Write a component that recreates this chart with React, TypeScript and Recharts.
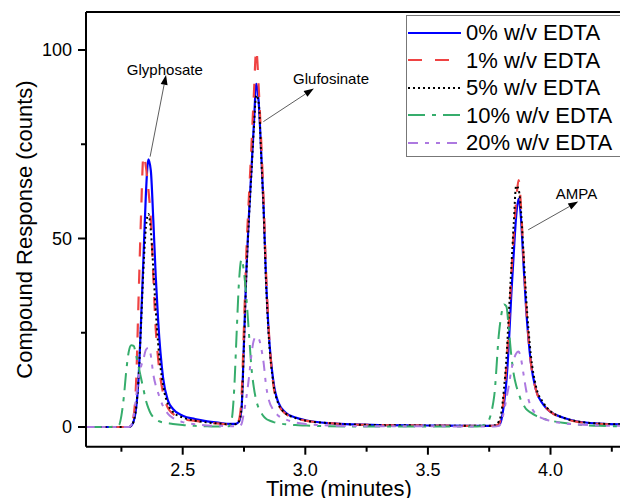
import { LineChart, Line, XAxis, YAxis, Legend, ReferenceLine, ReferenceDot, Label } from 'recharts'

// retention time (minutes)
const time = [
  2.1, 2.2, 2.24, 2.25, 2.26, 2.27, 2.28, 2.29, 2.3, 2.31,
  2.32, 2.33, 2.34, 2.35, 2.36, 2.37, 2.38, 2.39, 2.4, 2.42,
  2.44, 2.46, 2.5, 2.55, 2.6, 2.65, 2.69, 2.7, 2.71, 2.72,
  2.73, 2.74, 2.75, 2.76, 2.77, 2.78, 2.79, 2.8, 2.81, 2.82,
  2.83, 2.84, 2.85, 2.87, 2.89, 2.92, 2.96, 3.0, 3.1, 3.3,
  3.5, 3.7, 3.74, 3.77, 3.79, 3.8, 3.81, 3.82, 3.83, 3.84,
  3.85, 3.86, 3.87, 3.88, 3.89, 3.9, 3.92, 3.94, 3.97, 4.0,
  4.05, 4.1, 4.2, 4.29,
]

const edta0 = [
  0, 0, 0, 0, 0, 0, 0, 0.3, 1.5, 5,
  13, 28, 45, 62, 71, 68, 55, 40, 28, 13,
  7, 4.8, 3, 2.1, 1.5, 1.1, 0.8, 0.8, 0.8, 0.9,
  1.5, 5, 23, 42, 56, 68, 80, 91, 86, 73,
  58, 39, 26, 12, 6.5, 3.8, 2.5, 1.8, 1.0, 0.5,
  0.4, 0.3, 0.3, 0.3, 0.5, 2, 6, 12, 22, 35,
  46, 56, 60.5, 55, 43, 32, 17, 10, 6, 4,
  2.5, 1.6, 0.9, 0.7,
]

const edta1 = [
  0, 0, 0, 0, 0, 0, 0, 1, 3, 12,
  34, 56, 72, 69, 63, 55, 40, 26, 18, 9,
  5, 3.5, 2.2, 1.6, 1.2, 0.9, 0.7, 0.7, 0.7, 0.8,
  2, 8, 27, 47, 61, 74, 88, 100, 90, 76,
  60, 41, 27, 11, 6, 3.5, 2.3, 1.7, 1.0, 0.5,
  0.4, 0.3, 0.3, 0.3, 0.8, 3, 8, 16, 27, 40,
  51, 60, 65.5, 58, 45, 33, 17, 10, 6, 4,
  2.4, 1.5, 0.8, 0.6,
]

const edta5 = [
  0, 0, 0, 0, 0, 0, 0, 0.3, 1.5, 5,
  13, 27, 42, 53, 56.5, 52, 42, 31, 22, 11,
  6, 4, 2.5, 1.7, 1.2, 0.9, 0.7, 0.7, 0.7, 0.8,
  1.5, 5, 22, 41, 55, 67, 79, 88, 86, 72,
  57, 38, 25, 11.5, 6.2, 3.6, 2.4, 1.7, 1.0, 0.5,
  0.4, 0.3, 0.3, 0.4, 1.5, 4, 10, 18, 30, 42,
  54, 64, 63, 57, 46, 35, 19, 11, 6.5, 4.2,
  2.5, 1.6, 0.9, 0.7,
]

const edta10 = [
  0, 0, 0.5, 3, 8, 15, 20, 21.7, 21.5, 19,
  16, 13, 10, 7, 5, 3.5, 2.6, 2, 1.6, 1.2,
  1.0, 0.8, 0.5, 0.3, 0.2, 0.1, 0.2, 2, 10, 25,
  39, 44.5, 41, 34, 25, 16, 10.5, 7, 5, 3.8,
  2.8, 2.2, 1.8, 1.3, 1.0, 0.7, 0.5, 0.4, 0.2, 0.1,
  0.1, 0.1, 1, 8, 25, 30, 32.5, 32, 26, 19,
  14, 11, 9, 7, 5.8, 4.8, 3.8, 3, 2.2, 1.7,
  1.1, 0.7, 0.3, 0.2,
]

const edta20 = [
  0, 0, 0, 0, 0, 0, 0, 0.5, 3, 8,
  13, 16, 18, 20.5, 21, 19, 14, 11, 9, 5.5,
  3.5, 2.4, 1.3, 0.7, 0.4, 0.3, 0.2, 0.2, 0.2, 0.2,
  0.2, 0.8, 4, 8, 13, 19, 23, 24, 23.5, 21,
  17, 11, 7.5, 4.5, 3, 2, 1.2, 0.8, 0.4, 0.2,
  0.2, 0.1, 0.1, 0.1, 0.3, 1.5, 4, 7.5, 11, 15,
  17.8, 19.5, 20, 18, 14, 10, 5.5, 3.5, 2.2, 1.6,
  1.0, 0.7, 0.4, 0.3,
]

const xTicks = [2.25, 2.5, 2.75, 3.0, 3.25, 3.5, 3.75, 4.0, 4.25]
const xMajor = [2.5, 3.0, 3.5, 4.0]
const yTicks = [0, 25, 50, 75, 100]
const yMajor = [0, 50, 100]

const series = [
  { key: 'edta0', name: '0% w/v EDTA', color: '#0000ff', dash: undefined, width: 2.2 },
  { key: 'edta1', name: '1% w/v EDTA', color: '#ef4343', dash: '14 13', width: 2.2 },
  { key: 'edta5', name: '5% w/v EDTA', color: '#000000', dash: '2 3', width: 2 },
  { key: 'edta10', name: '10% w/v EDTA', color: '#36ad6c', dash: '17 7 4 7', width: 2 },
  { key: 'edta20', name: '20% w/v EDTA', color: '#ad79e0', dash: '10 7 4 7 4 7', width: 2 },
]

// arrow annotations, in data units: [from, to, label position]
const notes = [
  { text: 'Glyphosate', from: [2.367, 71.7], to: [2.432, 93.4], at: [2.427, 94.9] },
  { text: 'Glufosinate', from: [2.829, 81.0], to: [3.035, 89.8], at: [3.105, 92.5] },
  { text: 'AMPA', from: [3.909, 52.3], to: [4.113, 59.8], at: [4.106, 62.0] },
]

const data = time.map((t, i) => ({
  t,
  edta0: edta0[i],
  edta1: edta1[i],
  edta5: edta5[i],
  edta10: edta10[i],
  edta20: edta20[i],
}))

const font = '"Liberation Sans", Arial, sans-serif'

function XTick({ x, y, payload }: any) {
  const major = xMajor.includes(payload.value)
  return (
    <g>
      <line x1={x} x2={x} y1={y} y2={y + (major ? 8 : 5)} stroke="#000" strokeWidth={2} />
      {major && (
        <text x={x} y={y + 29} textAnchor="middle" fontSize={18} fontFamily={font} fill="#000">
          {payload.value.toFixed(1)}
        </text>
      )}
    </g>
  )
}

function YTick({ x, y, payload }: any) {
  const major = yMajor.includes(payload.value)
  return (
    <g>
      <line x1={x} x2={x - (major ? 8 : 5)} y1={y} y2={y} stroke="#000" strokeWidth={2} />
      {major && (
        <text x={x - 14} y={y + 6.5} textAnchor="end" fontSize={18} fontFamily={font} fill="#000">
          {payload.value}
        </text>
      )}
    </g>
  )
}

function Arrow({ x1, y1, x2, y2 }: any) {
  const a = Math.atan2(y2 - y1, x2 - x1)
  const len = 10
  const w = 3.5
  const bx = x2 - len * Math.cos(a)
  const by = y2 - len * Math.sin(a)
  const px = -Math.sin(a) * w
  const py = Math.cos(a) * w
  return (
    <g>
      <line x1={x1} y1={y1} x2={bx} y2={by} stroke="#333" strokeWidth={0.8} />
      <polygon points={`${x2},${y2} ${bx + px},${by + py} ${bx - px},${by - py}`} fill="#000" />
    </g>
  )
}

function LegendBox() {
  return (
    <div style={{ fontFamily: font, fontSize: 22, lineHeight: '27.5px', paddingTop: 3 }}>
      {series.map((s) => (
        <div key={s.key} style={{ display: 'flex', alignItems: 'center', height: 27.5 }}>
          <svg width={56} height={10} style={{ marginLeft: 1 }}>
            <line x1={0} x2={53} y1={5} y2={5} stroke={s.color} strokeWidth={2.2} strokeDasharray={s.dash} />
          </svg>
          <span style={{ marginLeft: 2, whiteSpace: 'nowrap', color: '#000' }}>{s.name}</span>
        </div>
      ))}
    </div>
  )
}

export default function App() {
  return (
    <div style={{ position: 'absolute', left: 0, top: 0, width: 620, height: 498, overflow: 'hidden', background: '#fff' }}>
      <LineChart width={620} height={498} data={data} margin={{ top: 12, right: 0, left: 0, bottom: 0 }}>
        <XAxis
          dataKey="t"
          type="number"
          domain={[2.1056, 4.2834]}
          allowDataOverflow
          ticks={xTicks}
          interval={0}
          height={51.3}
          tickSize={0}
          tickMargin={0}
          tickLine={false}
          tick={<XTick />}
          axisLine={{ stroke: '#000', strokeWidth: 2 }}
        >
          <Label
            content={() => (
              <text x={339} y={496} textAnchor="middle" fontSize={22} fontFamily={font} fill="#000">
                Time (minutes)
              </text>
            )}
          />
        </XAxis>
        <YAxis
          type="number"
          domain={[-5.23, 110.08]}
          allowDataOverflow
          ticks={yTicks}
          interval={0}
          width={86}
          tickSize={0}
          tickMargin={0}
          tickLine={false}
          tick={<YTick />}
          axisLine={{ stroke: '#000', strokeWidth: 2 }}
        >
          <Label
            content={() => (
              <text
                x={0}
                y={0}
                transform="translate(32 229.5) rotate(-90)"
                textAnchor="middle"
                fontSize={22}
                fontFamily={font}
                fill="#000"
              >
                Compound Response (counts)
              </text>
            )}
          />
        </YAxis>
        <ReferenceLine y={110.08} stroke="#000" strokeWidth={2} ifOverflow="visible" />
        {series.map((s) => (
          <Line
            key={s.key}
            dataKey={s.key}
            name={s.name}
            type="monotone"
            stroke={s.color}
            strokeWidth={s.width}
            strokeDasharray={s.dash}
            dot={false}
            activeDot={false}
            isAnimationActive={false}
          />
        ))}
        {notes.map((n) => (
          <ReferenceLine
            key={n.text + '-arrow'}
            segment={[
              { x: n.from[0], y: n.from[1] },
              { x: n.to[0], y: n.to[1] },
            ]}
            ifOverflow="visible"
            shape={(p: any) => <Arrow {...p} />}
          />
        ))}
        {notes.map((n) => (
          <ReferenceDot
            key={n.text}
            x={n.at[0]}
            y={n.at[1]}
            r={1}
            fill="none"
            stroke="none"
            ifOverflow="visible"
            label={{ value: n.text, position: 'center', fontSize: 15, fontFamily: font, fill: '#000' }}
          />
        ))}
        <Legend
          layout="vertical"
          align="center"
          verticalAlign="middle"
          content={() => <LegendBox />}
          wrapperStyle={{
            left: 406,
            top: 15,
            width: 230,
            height: 142,
            border: '1px solid #777',
            background: '#fff',
            boxSizing: 'border-box',
          }}
        />
      </LineChart>
    </div>
  )
}
